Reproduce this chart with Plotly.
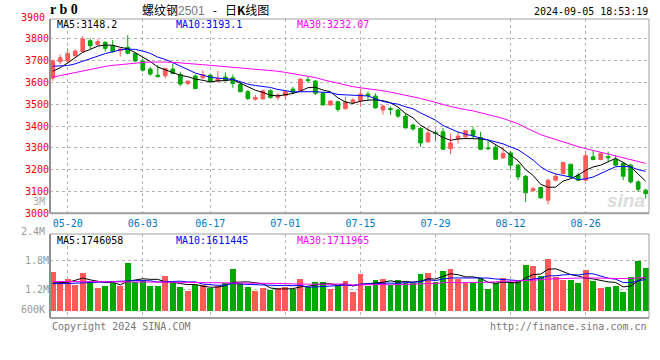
import plotly.graph_objects as go

# ---------------- data ----------------
dates = ["05-16", "05-17",
         "05-20", "05-21", "05-22", "05-23", "05-24",
         "05-27", "05-28", "05-29", "05-30", "05-31",
         "06-03", "06-04", "06-05", "06-06", "06-07",
         "06-11", "06-12", "06-13", "06-14",
         "06-17", "06-18", "06-19", "06-20", "06-21",
         "06-24", "06-25", "06-26", "06-27", "06-28",
         "07-01", "07-02", "07-03", "07-04", "07-05",
         "07-08", "07-09", "07-10", "07-11", "07-12",
         "07-15", "07-16", "07-17", "07-18", "07-19",
         "07-22", "07-23", "07-24", "07-25", "07-26",
         "07-29", "07-30", "07-31", "08-01", "08-02",
         "08-05", "08-06", "08-07", "08-08", "08-09",
         "08-12", "08-13", "08-14", "08-15", "08-16",
         "08-19", "08-20", "08-21", "08-22", "08-23",
         "08-26", "08-27", "08-28", "08-29", "08-30",
         "09-02", "09-03", "09-04", "09-05"]

tick_labels = ["05-20", "06-03", "06-17", "07-01", "07-15", "07-29", "08-12", "08-26"]

opens = [3620, 3696, 3699, 3723, 3742, 3792, 3775, 3784, 3768, 3746,
         3762, 3734, 3699, 3662, 3634, 3631, 3662, 3638, 3596, 3630,
         3622, 3634, 3607, 3625, 3622, 3592, 3558, 3523, 3525, 3562,
         3532, 3540, 3570, 3562, 3613, 3607, 3551, 3497, 3512, 3480,
         3510, 3517, 3547, 3538, 3474, 3481, 3474, 3446, 3405, 3389,
         3328, 3371, 3374, 3297, 3342, 3351, 3381, 3348, 3300, 3303,
         3254, 3277, 3221, 3170, 3104, 3118, 3060, 3152, 3182, 3225,
         3175, 3152, 3259, 3247, 3260, 3247, 3228, 3221, 3144, 3106]
highs = [3705, 3729, 3757, 3752, 3814, 3803, 3800, 3791, 3795, 3757,
         3818, 3738, 3711, 3672, 3680, 3668, 3688, 3650, 3607, 3638,
         3657, 3639, 3653, 3647, 3637, 3604, 3566, 3543, 3568, 3570,
         3551, 3561, 3580, 3619, 3627, 3611, 3555, 3520, 3515, 3535,
         3529, 3573, 3558, 3550, 3497, 3489, 3481, 3461, 3412, 3397,
         3397, 3381, 3392, 3366, 3374, 3381, 3397, 3374, 3335, 3313,
         3305, 3287, 3228, 3175, 3121, 3121, 3159, 3182, 3236, 3228,
         3186, 3287, 3287, 3277, 3283, 3267, 3236, 3228, 3152, 3113]
lows = [3608, 3684, 3688, 3719, 3737, 3754, 3769, 3742, 3737, 3719,
        3729, 3695, 3650, 3631, 3624, 3619, 3638, 3584, 3587, 3570,
        3616, 3600, 3604, 3604, 3576, 3555, 3520, 3517, 3523, 3527,
        3520, 3527, 3551, 3558, 3598, 3543, 3497, 3494, 3466, 3477,
        3501, 3489, 3520, 3480, 3453, 3451, 3437, 3389, 3379, 3305,
        3323, 3335, 3293, 3271, 3320, 3339, 3343, 3290, 3290, 3244,
        3251, 3201, 3152, 3052, 3098, 3067, 3041, 3147, 3179, 3164,
        3149, 3147, 3243, 3243, 3237, 3216, 3152, 3137, 3098, 3067]
closes = [3700, 3714, 3734, 3745, 3800, 3769, 3788, 3757, 3742, 3754,
          3734, 3699, 3657, 3639, 3627, 3665, 3642, 3593, 3607, 3573,
          3637, 3604, 3619, 3611, 3596, 3558, 3527, 3531, 3562, 3531,
          3543, 3558, 3555, 3616, 3610, 3551, 3497, 3515, 3477, 3512,
          3520, 3547, 3540, 3484, 3492, 3476, 3446, 3392, 3387, 3323,
          3369, 3366, 3294, 3323, 3354, 3379, 3358, 3294, 3297, 3248,
          3274, 3221, 3167, 3094, 3113, 3071, 3152, 3170, 3233, 3167,
          3152, 3264, 3247, 3274, 3255, 3221, 3170, 3144, 3110, 3090]

volumes = [1569000, 1374000, 1416000, 1291000, 1542000, 1374000, 1228000, 1270000, 1326000, 1270000,
           1757000, 1360000, 1395000, 1270000, 1270000, 1486000, 1326000, 1256000, 1165000, 1291000,
           1291000, 1222000, 1270000, 1326000, 1625000, 1326000, 1242000, 1172000, 1222000, 1186000,
           1222000, 1242000, 1200000, 1416000, 1242000, 1360000, 1360000, 1207000, 1270000, 1374000,
           1144000, 1521000, 1270000, 1395000, 1416000, 1291000, 1395000, 1326000, 1326000, 1521000,
           1548000, 1360000, 1584000, 1625000, 1416000, 1326000, 1360000, 1430000, 1207000, 1326000,
           1430000, 1326000, 1395000, 1709000, 1688000, 1479000, 1835000, 1451000, 1395000, 1395000,
           1326000, 1605000, 1374000, 1222000, 1256000, 1270000, 1138000, 1451000, 1793000, 1646000]

# moving-average values before the window is complete
ma5_head = [3652, 3668, 3690, 3716]
ma10_head = [3675, 3676, 3678, 3686, 3698, 3710, 3722, 3733, 3741]
ma30_head = [3625, 3632, 3640, 3648, 3655, 3662, 3668, 3674, 3679, 3683,
             3687, 3690, 3692, 3694, 3695, 3694, 3693, 3691, 3688, 3685,
             3682, 3679, 3676, 3673, 3670, 3667, 3664, 3661, 3659]
vma5_head = [1330000, 1335000, 1350000, 1390000]
vma10_head = [1320000, 1318000, 1322000, 1330000, 1338000, 1345000, 1352000, 1358000, 1362000]
vma30_head = [1365000, 1365000, 1366000, 1366000, 1365000, 1364000, 1363000, 1362000, 1362000, 1361000,
              1360000, 1358000, 1356000, 1355000, 1354000, 1352000, 1350000, 1349000, 1348000, 1347000,
              1345000, 1344000, 1343000, 1342000, 1341000, 1340000, 1339000, 1338000, 1338000]

price_ticks = [3000, 3100, 3200, 3300, 3400, 3500, 3600, 3700, 3800]
vol_ticks = [1200000, 1800000]
vol_tick_text = ["1.2M", "1.8M"]

legend_price = ["MA5:3148.2", "MA10:3193.1", "MA30:3232.07"]
legend_vol = ["MA5:1746058", "MA10:1611445", "MA30:1711965"]
ma_colors = ["#000000", "#0000ff", "#ff00ff"]

vol_base = 750000

# ---------------- helpers ----------------
def rolling(vals, n, head):
    out = list(head)
    for i in range(n - 1, len(vals)):
        out.append(sum(vals[i - n + 1:i + 1]) / n)
    return out

idx = list(range(len(dates)))
ma5 = rolling(closes, 5, ma5_head)
ma10 = rolling(closes, 10, ma10_head)
ma30 = rolling(closes, 30, ma30_head)
vma5 = rolling(volumes, 5, vma5_head)
vma10 = rolling(volumes, 10, vma10_head)
vma30 = rolling(volumes, 30, vma30_head)

RED = "#ff5a5a"
GREEN = "#00a800"
vol_colors = [RED if c >= o else GREEN for o, c in zip(opens, closes)]
tick_pos = [dates.index(t) for t in tick_labels]

MONO = "DejaVu Sans Mono"

fig = go.Figure()
fig.add_trace(go.Candlestick(
    x=idx, open=opens, high=highs, low=lows, close=closes,
    increasing=dict(line=dict(color=RED, width=1), fillcolor=RED),
    decreasing=dict(line=dict(color=GREEN, width=1), fillcolor=GREEN),
    whiskerwidth=0, xaxis="x", yaxis="y", showlegend=False, hoverinfo="skip"))
for vals, col in zip([ma5, ma10, ma30], ma_colors):
    fig.add_trace(go.Scatter(x=idx, y=vals, mode="lines", line=dict(color=col, width=1),
                             xaxis="x", yaxis="y", showlegend=False, hoverinfo="skip"))

fig.add_trace(go.Bar(x=idx, y=[v - vol_base for v in volumes], base=vol_base,
                     marker=dict(color=vol_colors, line=dict(width=0)), width=0.78,
                     xaxis="x2", yaxis="y2", showlegend=False, hoverinfo="skip"))
for vals, col in zip([vma5, vma10, vma30], ma_colors):
    fig.add_trace(go.Scatter(x=idx, y=vals, mode="lines", line=dict(color=col, width=1),
                             xaxis="x2", yaxis="y2", showlegend=False, hoverinfo="skip"))

xr = [-0.36, 79.44]
grid = dict(showgrid=True, gridcolor="#b4b4b4", griddash="dot", gridwidth=1, zeroline=False,
            automargin=False)

fig.update_layout(
    width=660, height=360,
    margin=dict(l=50, r=11, t=19, b=42, autoexpand=False),
    paper_bgcolor="white", plot_bgcolor="white",
    bargap=0,
    xaxis=dict(domain=[0, 1], range=xr, tickvals=tick_pos, ticktext=tick_labels,
               tickfont=dict(family=MONO, size=10, color="#0078c8"), ticks="",
               ticklabelstandoff=3,
               rangeslider=dict(visible=False), showline=False, anchor="y", **grid),
    yaxis=dict(domain=[0.3502, 1], range=[3000, 3891.7], tickvals=price_ticks,
               ticktext=[str(v) for v in price_ticks],
               tickfont=dict(family=MONO, size=10, color="#ee0000"), ticks="",
               showline=False, anchor="x", **grid),
    xaxis2=dict(domain=[0, 1], range=xr, tickvals=tick_pos, showticklabels=False, ticks="",
                anchor="y2", showline=False, **grid),
    yaxis2=dict(domain=[0, 0.2809], range=[600000, 2360000], tickvals=vol_ticks,
                ticktext=vol_tick_text, tickfont=dict(family=MONO, size=10, color="#999999"),
                ticks="", anchor="x2", showline=False, **grid),
)

# frames
for xref, yref in [("x domain", "y domain"), ("x2 domain", "y2 domain")]:
    fig.add_shape(type="rect", xref=xref, yref=yref, x0=0, x1=1, y0=0, y1=1,
                  line=dict(color="#a0a0a0", width=1), layer="above")
    fig.add_shape(type="line", xref=xref, yref=yref, x0=0, x1=0, y0=0, y1=1,
                  line=dict(color="#909090", width=2), layer="above")
    fig.add_shape(type="line", xref=xref, yref=yref, x0=0, x1=1, y0=0, y1=0,
                  line=dict(color="#a0a0a0", width=2), layer="above")

ann = []
def text(t, x, y, xref="paper", yref="paper", xa="left", ya="middle", size=10,
         color="#000", family=MONO, xs=0, ys=0, **kw):
    ann.append(dict(text=t, x=x, y=y, xref=xref, yref=yref, xanchor=xa, yanchor=ya,
                    showarrow=False, font=dict(family=family, size=size, color=color),
                    xshift=xs, yshift=ys, **kw))

# extra axis labels
text("3900", 0, 1, yref="y domain", xa="right", color="#ee0000", xs=-3, ys=2)
text("3M", 0, 0, yref="y domain", xa="right", ya="bottom", color="#aaaaaa", xs=-3, ys=4)
text("2.4M", 0, 1, yref="y2 domain", xa="right", color="#999999", xs=-3, ys=3)
text("600K", 0, 0, yref="y2 domain", xa="right", ya="bottom", color="#999999", xs=-3, ys=1)

# MA legends
xs_leg = [5, 124, 245]
for t, c, dx in zip(legend_price, ma_colors, xs_leg):
    text(t, 0, 1, yref="y domain", xa="left", ya="top", color=c, xs=dx, ys=2)
for t, c, dx in zip(legend_vol, ma_colors, xs_leg):
    text(t, 0, 1, yref="y2 domain", xa="left", ya="top", color=c, xs=dx, ys=1)

# titles
text("<b>r b 0</b>", 0, 1, yref="paper", xa="left", ya="bottom", size=14,
     family="Liberation Serif", xs=-2, ys=0)
text("螺纹钢<span style='color:#777777;font-family:Liberation Sans'>2501</span>\u00a0\u00a0\u00a0-\u00a0\u00a0\u00a0日<b>K</b>线图",
     0, 1, xa="left", ya="bottom", size=12, family="Noto Sans CJK SC", xs=90, ys=-1)
text("2024-09-05 18:53:19", 1, 1, xa="right", ya="bottom", xs=1, ys=0)

# footer
text("Copyright 2024 SINA.COM", 0, 0, xa="left", ya="top", color="#777777", ys=-1)
text("http://finance.sina.com.cn", 1, 0, xa="right", ya="top", color="#777777", ys=-1)

# watermark
ann.append(dict(text="sina", x=1, y=0, xref="x domain", yref="y domain", xanchor="right",
                yanchor="bottom", showarrow=False, xshift=-2, yshift=0,
                font=dict(family="Liberation Sans", size=19, color="#dcdcdc",
                          style="italic", weight="bold")))

fig.update_layout(annotations=ann)
# remove the browser's default 8px body margin so the figure fills the window
fig.write_html("out.html", config={"displayModeBar": False},
               post_script="document.body.style.margin='0px';")
